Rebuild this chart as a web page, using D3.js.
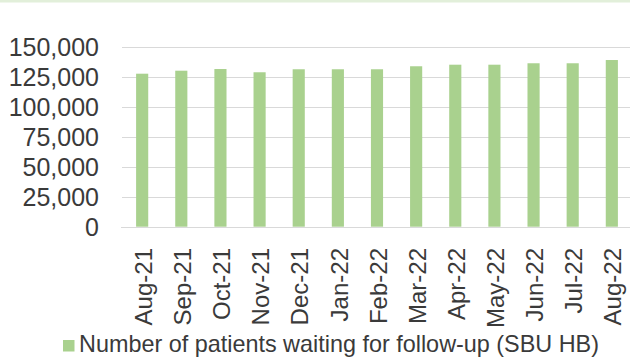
<!DOCTYPE html>
<html>
<head>
<meta charset="utf-8">
<script src="https://cdn.jsdelivr.net/npm/d3@7"></script>
<style>
  html, body { margin: 0; padding: 0; background: #fff; }
  svg { display: block; }
  text { font-family: "Liberation Sans", Arial, sans-serif; fill: #3a3a3a; }
</style>
</head>
<body>
<svg id="chart" width="630" height="359"></svg>
<script>
const categories = ["Aug-21","Sep-21","Oct-21","Nov-21","Dec-21","Jan-22","Feb-22","Mar-22","Apr-22","May-22","Jun-22","Jul-22","Aug-22"];
const followUpValues = [127500,130000,131400,128700,131200,131200,131200,133700,135000,135000,136200,136200,138900];
const yTicks = [0,25000,50000,75000,100000,125000,150000];
const seriesName = "Number of patients waiting for follow-up (SBU HB)";

const svg = d3.select("#chart");
const W = 630, H = 359;

// top light-green strip (cut-off title area)
svg.append("rect").attr("x", 0).attr("y", 0).attr("width", W).attr("height", 2.5).attr("fill", "#e2efda");

const x = d3.scaleBand().domain(categories).range([122.6, 631.4]).paddingInner(0.69).paddingOuter(0.345);
const y = d3.scaleLinear().domain([0, 150000]).range([226.7, 46.7]);

// gridlines
svg.append("g").selectAll("line").data(yTicks.filter(d => d > 0)).join("line")
  .attr("x1", 122).attr("x2", W)
  .attr("y1", d => Math.round(y(d)) + 0.5).attr("y2", d => Math.round(y(d)) + 0.5)
  .attr("stroke", "#d9d9d9").attr("stroke-width", 1.2);

// bars
svg.append("g").selectAll("rect").data(followUpValues).join("rect")
  .attr("x", (d, i) => x(categories[i]))
  .attr("width", x.bandwidth())
  .attr("y", d => y(d))
  .attr("height", d => y(0) - y(d))
  .attr("fill", "#a9d18e");

// baseline
svg.append("line").attr("x1", 121).attr("x2", W)
  .attr("y1", Math.round(y(0)) + 0.5).attr("y2", Math.round(y(0)) + 0.5)
  .attr("stroke", "#d9d9d9").attr("stroke-width", 1.2);

// y axis labels
const fmt = d3.format(",");
svg.append("g").selectAll("text").data(yTicks).join("text")
  .attr("x", 99).attr("y", d => y(d)).attr("dy", "0.36em")
  .attr("text-anchor", "end").style("font-size", "25px")
  .text(d => fmt(d));

// x axis labels (rotated)
svg.append("g").selectAll("text").data(categories).join("text")
  .attr("transform", d => `translate(${x(d) + x.bandwidth() / 2 + 1},248) rotate(-90)`)
  .attr("dy", "0.36em")
  .attr("text-anchor", "end").style("font-size", "24px")
  .text(d => d);

// legend
svg.append("rect").attr("x", 63).attr("y", 340).attr("width", 11.5).attr("height", 11.5).attr("fill", "#a9d18e");
svg.append("text").attr("x", 79).attr("y", 351.5).style("font-size", "23.4px").text(seriesName);
</script>
</body>
</html>
